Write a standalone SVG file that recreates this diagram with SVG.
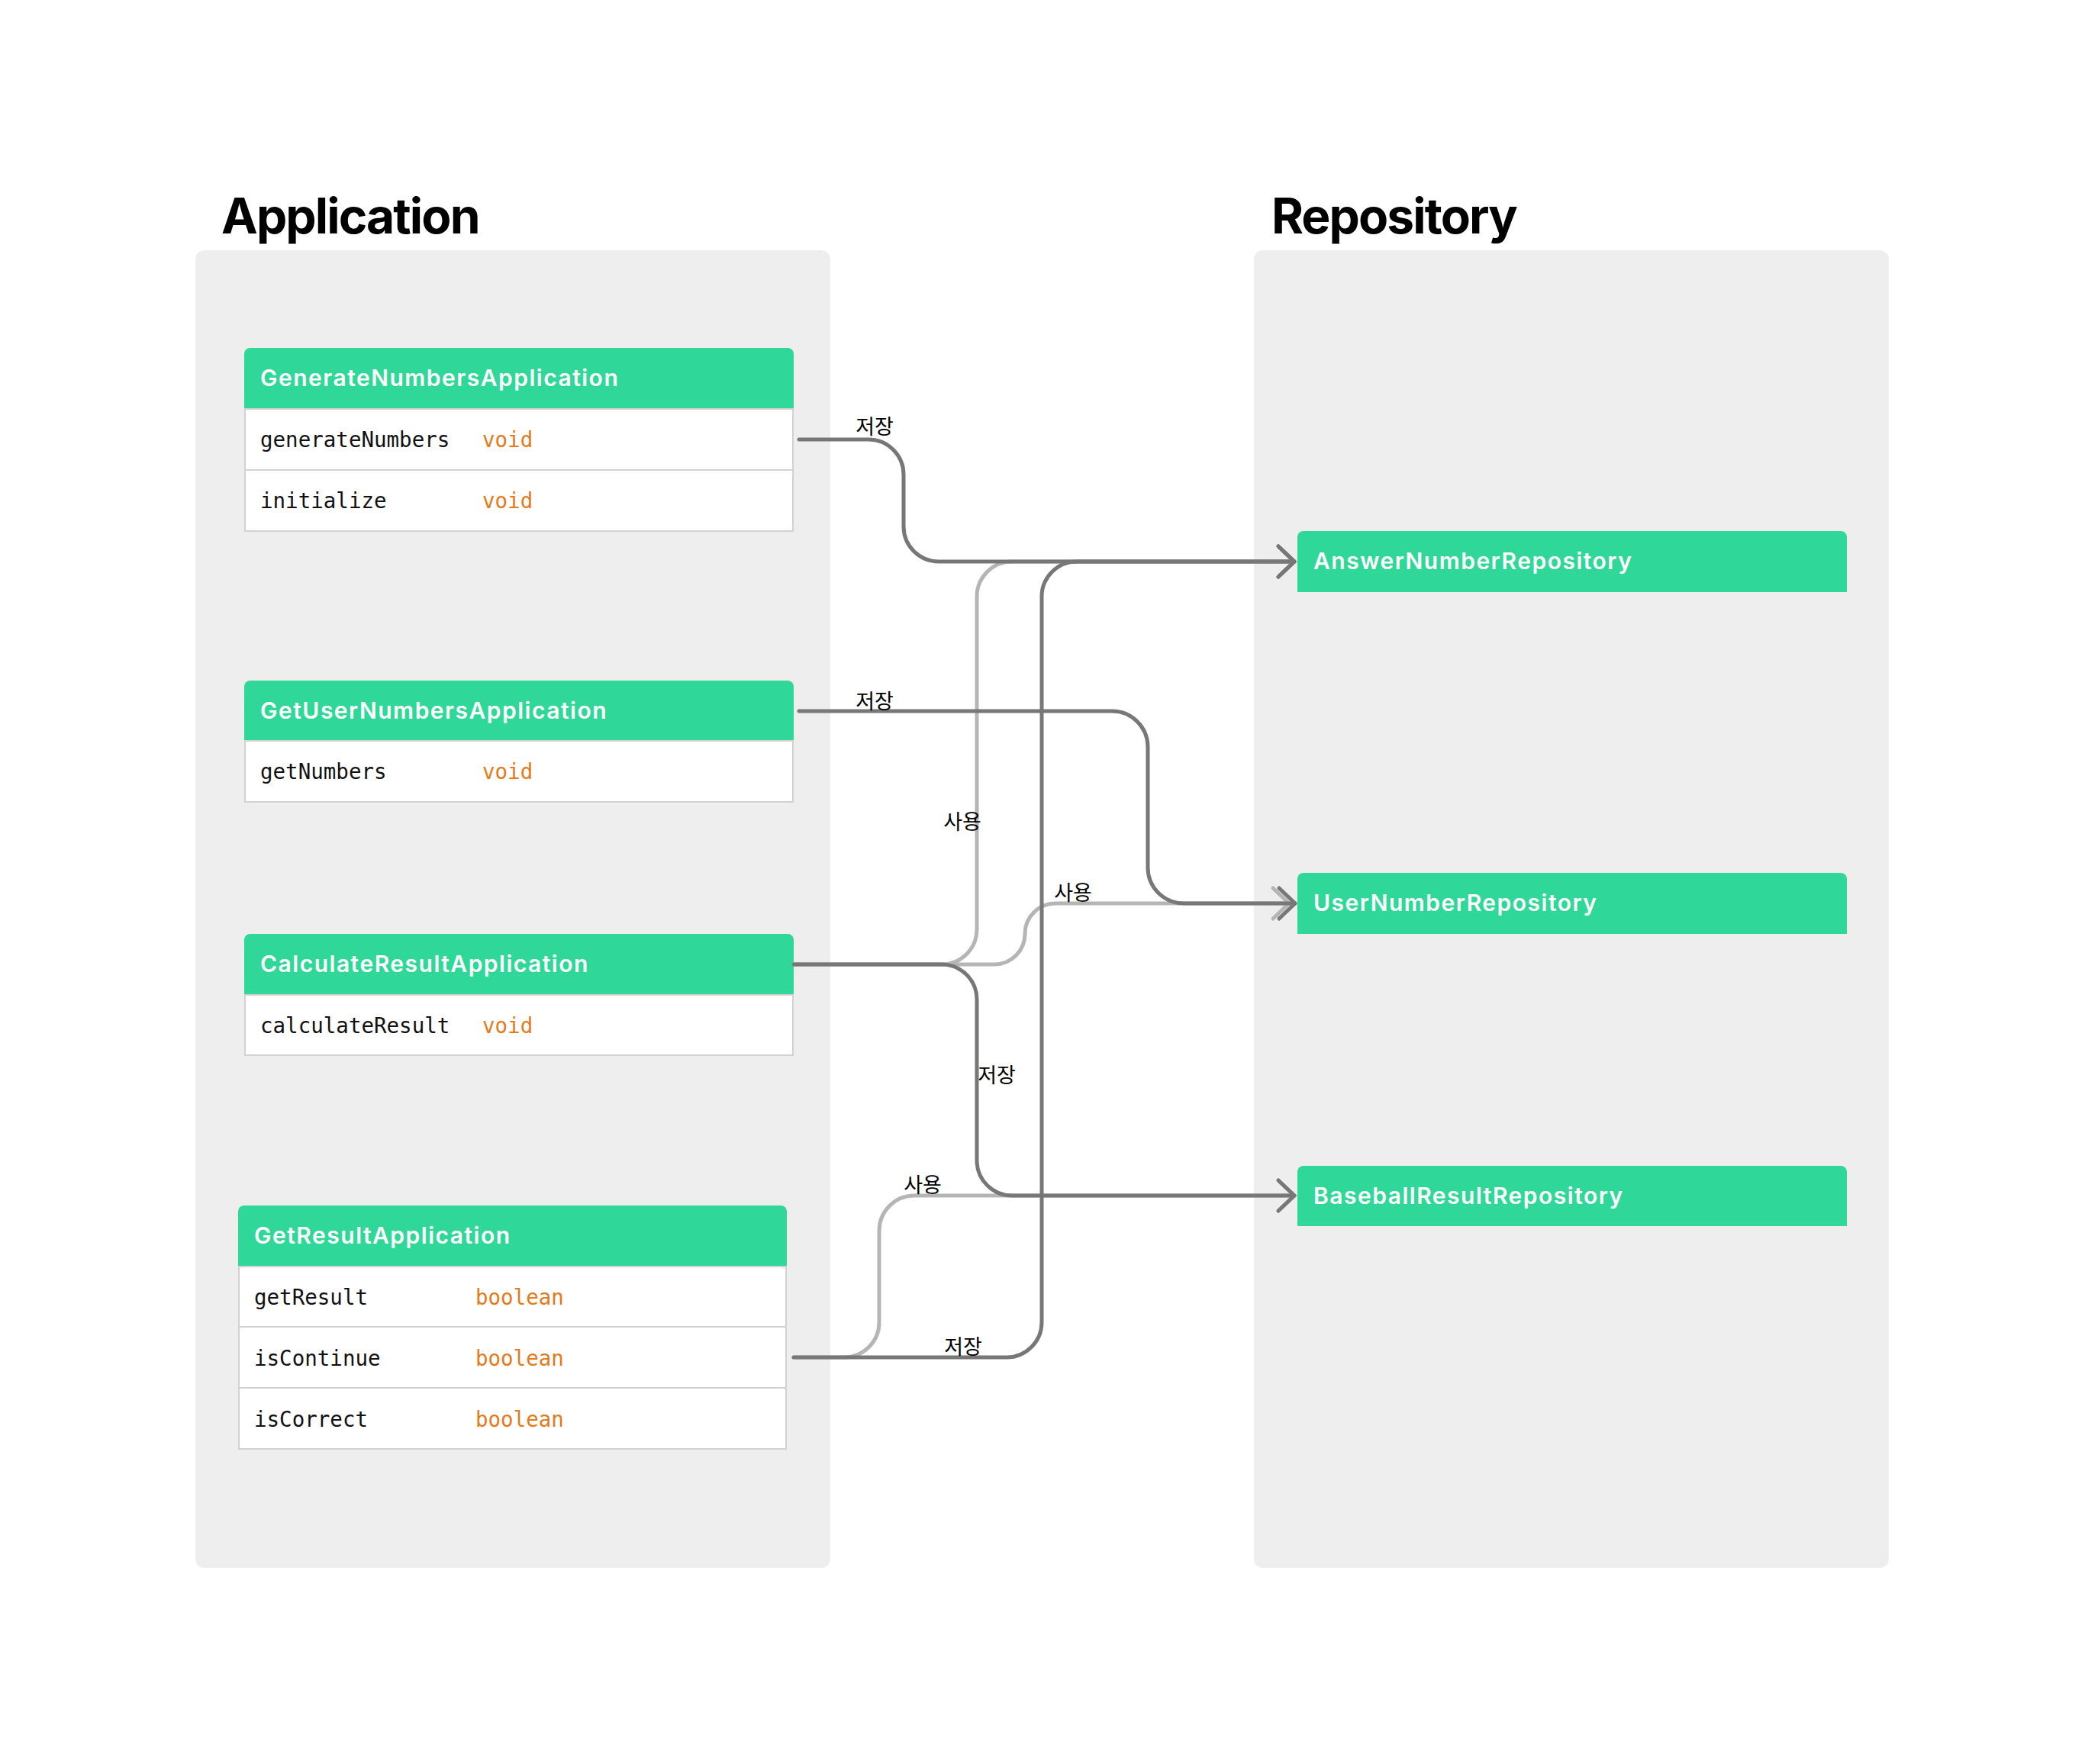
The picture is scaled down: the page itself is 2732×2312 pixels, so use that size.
<svg xmlns="http://www.w3.org/2000/svg" width="2732" height="2312" viewBox="0 0 2732 2312">
<style>
.panel{fill:#eeeeee}
.title{font-family:Inter,"Noto Sans",sans-serif;font-weight:700;font-size:64px;letter-spacing:-1.9px;fill:#000}
.hdr{fill:#2fd898}
.ht{font-family:Inter,"Noto Sans",sans-serif;font-weight:600;font-size:30px;letter-spacing:1.5px;fill:#ffffff}
.row{fill:#ffffff;stroke:#d2d2d2;stroke-width:2}
.mn{font-family:"DejaVu Sans Mono","Liberation Mono",monospace;font-size:27.5px;fill:#111}
.ty{font-family:"DejaVu Sans Mono","Liberation Mono",monospace;font-size:27.5px;fill:#e27b1c}
.dk{fill:none;stroke:#777777;stroke-width:5;stroke-linecap:round;stroke-linejoin:round}
.lt{fill:none;stroke:#b5b5b5;stroke-width:5;stroke-linecap:round;stroke-linejoin:round}
.lbl{font-family:"Noto Sans CJK KR","Noto Sans",sans-serif;font-size:27px;fill:#000;text-anchor:middle}
</style>
<defs>
<marker id="ahd" markerUnits="userSpaceOnUse" viewBox="-30 -26 36 52" refX="0" refY="0" markerWidth="36" markerHeight="52" orient="auto">
<path d="M-21,-20 L0,0 L-21,20" fill="none" stroke="#777777" stroke-width="5" stroke-linecap="round" stroke-linejoin="round"/>
</marker>
<marker id="ahl" markerUnits="userSpaceOnUse" viewBox="-30 -26 36 52" refX="0" refY="0" markerWidth="36" markerHeight="52" orient="auto">
<path d="M-21,-20 L0,0 L-21,20" fill="none" stroke="#b5b5b5" stroke-width="5" stroke-linecap="round" stroke-linejoin="round"/>
</marker>
</defs>
<rect width="2732" height="2312" fill="#ffffff"/>

<g id="group-application">
<text class="title" x="290" y="306">Application</text>
<rect class="panel" x="256" y="328" width="832" height="1727" rx="12"/>
</g>
<g id="group-repository">
<text class="title" x="1666" y="306">Repository</text>
<rect class="panel" x="1643" y="328" width="832" height="1727" rx="12"/>
</g>

<g id="node-generate-numbers-application">
<path class="hdr" d="M320,464 a8,8 0 0 1 8,-8 H1032 a8,8 0 0 1 8,8 V536 H320 Z"/>
<text class="ht" x="341" y="506">GenerateNumbersApplication</text>
<rect class="row" x="321" y="536" width="718" height="80"/>
<text class="mn" x="341" y="586">generateNumbers</text>
<text class="ty" x="632" y="586">void</text>
<rect class="row" x="321" y="616" width="718" height="80"/>
<text class="mn" x="341" y="666">initialize</text>
<text class="ty" x="632" y="666">void</text>
</g>

<g id="node-get-user-numbers-application">
<path class="hdr" d="M320,900 a8,8 0 0 1 8,-8 H1032 a8,8 0 0 1 8,8 V971 H320 Z"/>
<text class="ht" x="341" y="942">GetUserNumbersApplication</text>
<rect class="row" x="321" y="971" width="718" height="80"/>
<text class="mn" x="341" y="1021">getNumbers</text>
<text class="ty" x="632" y="1021">void</text>
</g>

<g id="node-calculate-result-application">
<path class="hdr" d="M320,1232 a8,8 0 0 1 8,-8 H1032 a8,8 0 0 1 8,8 V1304 H320 Z"/>
<text class="ht" x="341" y="1274">CalculateResultApplication</text>
<rect class="row" x="321" y="1304" width="718" height="79"/>
<text class="mn" x="341" y="1354">calculateResult</text>
<text class="ty" x="632" y="1354">void</text>
</g>

<g id="node-get-result-application">
<path class="hdr" d="M312,1588 a8,8 0 0 1 8,-8 H1023 a8,8 0 0 1 8,8 V1660 H312 Z"/>
<text class="ht" x="333" y="1630">GetResultApplication</text>
<rect class="row" x="313" y="1660" width="717" height="79"/>
<text class="mn" x="333" y="1710">getResult</text>
<text class="ty" x="623" y="1710">boolean</text>
<rect class="row" x="313" y="1739" width="717" height="80"/>
<text class="mn" x="333" y="1790">isContinue</text>
<text class="ty" x="623" y="1790">boolean</text>
<rect class="row" x="313" y="1819" width="717" height="80"/>
<text class="mn" x="333" y="1870">isCorrect</text>
<text class="ty" x="623" y="1870">boolean</text>
</g>

<g id="node-answer-number-repository">
<path class="hdr" d="M1700,704 a8,8 0 0 1 8,-8 H2412 a8,8 0 0 1 8,8 V776 H1700 Z"/>
<text class="ht" x="1721" y="746">AnswerNumberRepository</text>
</g>
<g id="node-user-number-repository">
<path class="hdr" d="M1700,1152 a8,8 0 0 1 8,-8 H2412 a8,8 0 0 1 8,8 V1224 H1700 Z"/>
<text class="ht" x="1721" y="1194">UserNumberRepository</text>
</g>
<g id="node-baseball-result-repository">
<path class="hdr" d="M1700,1536 a8,8 0 0 1 8,-8 H2412 a8,8 0 0 1 8,8 V1607 H1700 Z"/>
<text class="ht" x="1721" y="1578">BaseballResultRepository</text>
</g>

<g id="connectors">
<path class="lt" marker-end="url(#ahl)" d="M1040,1264 H1234 A46,46 0 0 0 1280,1218 V782 A46,46 0 0 1 1326,736 H1696"/>
<path class="lt" marker-end="url(#ahl)" d="M1040,1264 H1303 A40,40 0 0 0 1343,1224 A40,40 0 0 1 1383,1184 H1689"/>
<path class="lt" marker-end="url(#ahl)" d="M1040,1779 H1106 A46,46 0 0 0 1152,1733 V1613 A46,46 0 0 1 1198,1567 H1696"/>
<path class="dk" marker-end="url(#ahd)" d="M1047,576 H1138 A46,46 0 0 1 1184,622 V690 A46,46 0 0 0 1230,736 H1696"/>
<path class="dk" marker-end="url(#ahd)" d="M1047,932 H1457 A47,47 0 0 1 1504,979 V1137 A47,47 0 0 0 1551,1184 H1697"/>
<path class="dk" marker-end="url(#ahd)" d="M1040,1264 H1234 A46,46 0 0 1 1280,1310 V1521 A46,46 0 0 0 1326,1567 H1696"/>
<path class="dk" marker-end="url(#ahd)" d="M1040,1779 H1319 A46,46 0 0 0 1365,1733 V782 A46,46 0 0 1 1411,736 H1696"/>
<text class="lbl" x="1146" y="569">저장</text>
<text class="lbl" x="1146" y="929">저장</text>
<text class="lbl" x="1261" y="1087">사용</text>
<text class="lbl" x="1406" y="1180">사용</text>
<text class="lbl" x="1306" y="1419">저장</text>
<text class="lbl" x="1209" y="1563">사용</text>
<text class="lbl" x="1262" y="1775">저장</text>
</g>
</svg>
